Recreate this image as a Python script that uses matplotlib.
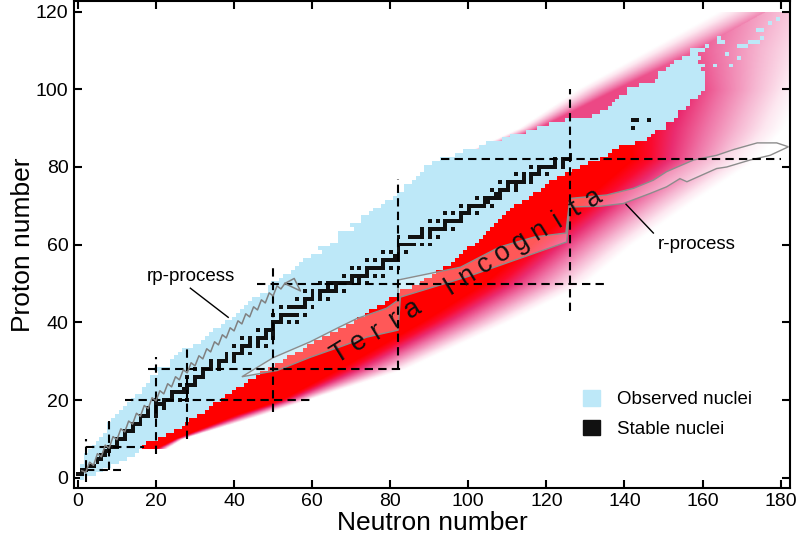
import numpy as np
import matplotlib
matplotlib.use("Agg")
import matplotlib.pyplot as plt
from matplotlib.colors import ListedColormap, LinearSegmentedColormap
from matplotlib.patches import Patch

plt.rcParams["font.family"] = ["Liberation Sans", "DejaVu Sans"]

# observed nuclei: N range for each Z (index = Z)
obs_nmin = [1, 0, 1, 1, 2, 2, 2, 3, 4, 5,
            6, 7, 8, 8, 8, 9, 10, 11, 12, 13,
            14, 15, 17, 17, 18, 19, 19, 21, 20, 24,
            24, 25, 26, 27, 30, 32, 33, 34, 35, 37,
            38, 40, 41, 42, 43, 44, 45, 47, 49, 49,
            50, 52, 53, 55, 56, 57, 58, 60, 63, 62,
            65, 67, 67, 67, 71, 70, 73, 73, 75, 76,
            78, 79, 81, 82, 84, 84, 86, 87, 88, 89,
            89, 91, 93, 97, 99, 103, 105, 109, 111, 115,
            118, 121, 125, 132, 134, 136, 137, 138, 139, 141,
            141, 144, 148, 149, 149, 151, 152, 153, 155, 157,
            157, 161, 165]
obs_nmax = [1, 4, 6, 8, 10, 12, 14, 15, 16, 17,
            20, 22, 24, 26, 27, 28, 30, 32, 33, 34,
            36, 37, 39, 40, 42, 43, 45, 46, 48, 50,
            52, 53, 55, 57, 58, 60, 62, 64, 66, 68,
            70, 71, 73, 74, 76, 78, 79, 81, 82, 85,
            87, 88, 90, 91, 93, 95, 96, 97, 98, 99,
            101, 102, 103, 104, 105, 106, 107, 108, 109, 110,
            111, 113, 115, 116, 118, 119, 120, 122, 124, 126,
            128, 130, 133, 135, 136, 138, 142, 145, 146, 147,
            150, 150, 152, 153, 153, 155, 156, 156, 158, 159,
            160, 160, 160, 160, 160, 159, 160, 158, 159, 158,
            160, 161, 165]
# isolated superheavy cells
heavy_n = [163, 167, 166, 169, 169, 170, 171, 164, 164, 172, 173, 174, 175, 174, 175, 177, 179]
heavy_z = [106, 106, 109, 108, 111, 111, 111, 112, 113, 112, 112, 112, 113, 115, 115, 117, 118]

# stable nuclei: Z -> list of N
stable = {
    1: [0, 1], 2: [1, 2], 3: [3, 4], 4: [5], 5: [5, 6], 6: [6, 7], 7: [7, 8],
    8: [8, 9, 10], 9: [10], 10: [10, 11, 12], 11: [12], 12: [12, 13, 14], 13: [14],
    14: [14, 15, 16], 15: [16], 16: [16, 17, 18, 20], 17: [18, 20], 18: [18, 20, 22],
    19: [20, 21, 22], 20: [20, 22, 23, 24, 26, 28], 21: [24], 22: [24, 25, 26, 27, 28],
    23: [27, 28], 24: [26, 28, 29, 30], 25: [30], 26: [28, 30, 31, 32], 27: [32],
    28: [30, 32, 33, 34, 36], 29: [34, 36], 30: [34, 36, 37, 38, 40], 31: [38, 40],
    32: [38, 40, 41, 42, 44], 33: [42], 34: [40, 42, 43, 44, 46, 48], 35: [44, 46],
    36: [42, 44, 46, 47, 48, 50], 37: [48, 50], 38: [46, 48, 49, 50], 39: [50],
    40: [50, 51, 52, 54, 56], 41: [52], 42: [50, 52, 53, 54, 55, 56, 58],
    44: [52, 54, 55, 56, 57, 58, 60], 45: [58], 46: [56, 58, 59, 60, 62, 64],
    47: [60, 62], 48: [58, 60, 62, 63, 64, 65, 66, 68], 49: [64, 66],
    50: [62, 64, 65, 66, 67, 68, 69, 70, 72, 74], 51: [70, 72],
    52: [68, 70, 71, 72, 73, 74, 76, 78], 53: [74], 54: [70, 72, 74, 75, 76, 77, 78, 80, 82],
    55: [78], 56: [74, 76, 78, 79, 80, 81, 82], 57: [81, 82], 58: [78, 80, 82, 84],
    59: [82], 60: [82, 83, 84, 85, 86, 88, 90], 62: [82, 85, 86, 87, 88, 90, 92],
    63: [88, 90], 64: [88, 90, 91, 92, 93, 94, 96], 65: [94], 66: [90, 92, 94, 95, 96, 97, 98],
    67: [98], 68: [94, 96, 98, 99, 100, 102], 69: [100], 70: [98, 100, 101, 102, 103, 104, 106],
    71: [104, 105], 72: [102, 104, 105, 106, 107, 108], 73: [107, 108],
    74: [106, 108, 109, 110, 112], 75: [110, 112], 76: [108, 110, 111, 112, 113, 114, 116],
    77: [114, 116], 78: [112, 114, 116, 117, 118, 120], 79: [118],
    80: [116, 118, 119, 120, 121, 122, 124], 81: [122, 124], 82: [122, 124, 125, 126],
    83: [126], 90: [142], 92: [142, 143, 146],
}

# neutron-rich side: where solid red ends and where the colour has faded out
nz = [7.5, 10, 16, 20, 28, 40, 50, 60, 70, 82, 90, 100, 110, 121]
red_edge = [20, 25, 40, 52, 67, 88, 104, 116, 128, 142, 141, 144, 135, 135]
drip_edge = [23, 27, 47, 59, 84, 110, 130, 142, 156, 174, 181, 186, 192, 198]
# proton-rich side (heavy nuclei only)
pz = [84, 90, 100, 110, 121]
p_core = [102, 118, 138, 158, 178]
p_white = [100, 113, 128, 146, 166]
p_start = [0.42, 0.38, 0.38, 0.45, 0.58]

# r-process path outline
rproc_n = [42, 50, 59.5, 67, 71.5, 79, 82, 82, 98, 108, 117, 125, 126, 135.5, 142.3, 147.4,
           150.8, 157.7, 163.6, 168, 174, 179, 182, 177.3, 172.2, 166.2, 163.6, 156, 154.2,
           150.8, 146.6, 139.7, 133.8, 126, 125.2, 116.7, 99.6, 82.6, 82, 74, 68, 59.5, 51, 42]
rproc_z = [26, 30.9, 35, 38.8, 41, 43.6, 45.7, 50.9, 54.2, 59.4, 62, 63, 71.9, 72.8, 74.5, 76.6,
           78.8, 81.8, 83, 84.5, 86.2, 86.2, 85.2, 83, 81.8, 80, 79.6, 76.2, 77,
           74.9, 73.2, 70.6, 69.9, 69.7, 60.7, 57.7, 51.7, 46.5, 38, 36.2, 34, 31, 27.6, 26]

# rp-process path
rp_n = [1, 2, 3, 4, 5, 6, 7, 8, 9, 10, 11, 12, 13, 14, 15, 16, 17, 18, 19, 20, 21, 22, 23, 24, 25,
        26, 27, 28, 29, 30, 31, 32, 33, 34, 35, 36, 37, 38, 39, 40, 41, 42, 43, 44, 45, 46, 47, 48,
        49, 50, 51, 52, 53, 55.4, 57, 53]
rp_z = [1.8, 1.4, 4.0, 3.2, 6.2, 5.4, 8.4, 7.6, 10.6, 9.8, 12.6, 11.8, 14.6, 13.8, 16.6, 15.8,
        18.6, 17.8, 20.6, 19.8, 22.4, 21.6, 24.2, 23.4, 26.0, 25.2, 27.8, 27.0, 29.6, 28.8, 31.4,
        30.6, 33.2, 32.4, 35.0, 34.2, 36.8, 36.0, 38.6, 37.8, 40.4, 39.6, 42.2, 41.4, 44.0, 43.2,
        45.8, 45.0, 47.6, 46.8, 49.4, 48.6, 50.0, 51.3, 48.1, 50.0]

# magic number lines
magic_h = [(2, 2, 11), (8, 2, 17), (20, 12, 60), (28, 18, 83), (50, 46, 135), (82, 93, 180)]
magic_v = [(2, -1, 10), (8, 2, 16), (20, 6, 31), (28, 10, 34), (50, 17, 55), (82, 28, 77), (126, 43, 100)]

blue = "#bde8f8"
black = "#111111"

fig = plt.figure(figsize=(8, 5.55), dpi=100)
ax = fig.add_axes([0.0925, 0.121, 0.895, 0.877])

# predicted nuclei, fading out
Ng = np.arange(-1, 183.5, 0.2)
Zg = np.arange(7.5, 120.01, 0.2)
N2, Z2 = np.meshgrid(Ng, Zg)
zi = np.clip(np.round(Zg).astype(int), 0, len(obs_nmin) - 1)
center = ((np.array(obs_nmin) + np.array(obs_nmax)) / 2.0)[zi]
pc = np.interp(Zg, pz, p_core)
pw = np.interp(Zg, pz, p_white)
ps = np.interp(Zg, pz, p_start)[:, None]
center = np.where(Zg > 110, pc, center)[:, None]
pc, pw = pc[:, None], pw[:, None]
red = np.interp(Zg, nz, red_edge)[:, None]
drip = np.interp(Zg, nz, drip_edge)[:, None]
vn = np.clip((N2 - red) / (drip - red), 0, 1)
vn[N2 < center] = 1
vp = ps + (1 - ps) * np.clip((pc - N2) / (pc - pw), 0, 1)
vp[(N2 >= center) | (Z2 < pz[0])] = 1
val = np.minimum(vn, vp)
val = np.ma.masked_where(val >= 0.995, val)
fade = LinearSegmentedColormap.from_list(
    "fade", [(0, "#ff0000"), (0.15, "#fb0a2e"), (0.3, "#ea2c70"), (0.5, "#ef74a6"),
             (0.7, "#f6b6d1"), (0.87, "#fde7f0"), (1, "#ffffff")])
fade.set_bad((1, 1, 1, 0))
ax.imshow(val, cmap=fade, vmin=0, vmax=1, origin="lower", aspect="auto",
          extent=(Ng[0], Ng[-1], Zg[0], Zg[-1]), interpolation="bilinear", zorder=1)

# observed and stable cells
cells = np.zeros((121, 184))
for z in range(len(obs_nmin)):
    cells[z, obs_nmin[z]:obs_nmax[z] + 1] = 1
for n, z in zip(heavy_n, heavy_z):
    cells[z, n] = 1
for z, ns in stable.items():
    for n in ns:
        cells[z, n] = 2
ax.imshow(np.ma.masked_equal(cells, 0), cmap=ListedColormap([blue, black]), vmin=1, vmax=2,
          origin="lower", aspect="auto", extent=(-0.5, 183.5, -0.5, 120.5),
          interpolation="nearest", zorder=2)

# r-process region
ax.fill(rproc_n, rproc_z, facecolor=(1, 1, 1, 0.35), edgecolor="#8c8c8c", lw=1, zorder=3)

# magic numbers
for z, n0, n1 in magic_h:
    ax.plot([n0, n1], [z, z], color="black", lw=1.5, dashes=(4, 2.5), zorder=4)
for n, z0, z1 in magic_v:
    ax.plot([n, n], [z0, z1], color="black", lw=1.5, dashes=(4, 2.5), zorder=4)

# rp-process
ax.plot(rp_n, rp_z, color="#808080", lw=1.1, zorder=5)

# labels
ax.text(29.0, 51.7, "rp-process", fontsize=13.5, ha="center", va="center", zorder=6)
ax.plot([28.8, 38.5], [48.8, 41.3], color="black", lw=1, zorder=6)
ax.text(158.6, 60.1, "r-process", fontsize=13.5, ha="center", va="center", zorder=6)
ax.plot([140.4, 147.4], [70.4, 63], color="black", lw=1, zorder=6)

word = "Terra Incognita"
for i, ch in enumerate(word):
    ax.text(67.2 + i * 4.63, 32.0 + i * 2.86, ch, fontsize=19.5,
            rotation=31.5, rotation_mode="anchor", ha="center", va="center",
            color="#111111", zorder=6)

ax.set_xlim(-1, 182.4)
ax.set_ylim(-2.6, 122.7)
ax.set_xticks(range(0, 181, 20))
ax.set_yticks(range(0, 121, 20))
ax.tick_params(direction="in", length=6, width=1.5, top=True, right=True, pad=4,
               labelsize=14)
for s in ax.spines.values():
    s.set_linewidth(1.5)
ax.set_xlabel("Neutron number", fontsize=19)
ax.set_ylabel("Proton number", fontsize=19)
ax.xaxis.set_label_coords(0.5, -0.047)
ax.yaxis.set_label_coords(-0.054, 0.5)

ax.legend(handles=[Patch(color=blue), Patch(color=black)],
          labels=["Observed nuclei", "Stable nuclei"],
          loc="upper left", bbox_to_anchor=(0.729, 0.297), bbox_transform=fig.transFigure,
          frameon=False, handlelength=0.9, handleheight=0.9, handletextpad=0.9,
          borderpad=0, borderaxespad=0, labelspacing=0.6, fontsize=13.5)

fig.savefig("out.png", dpi=100)
